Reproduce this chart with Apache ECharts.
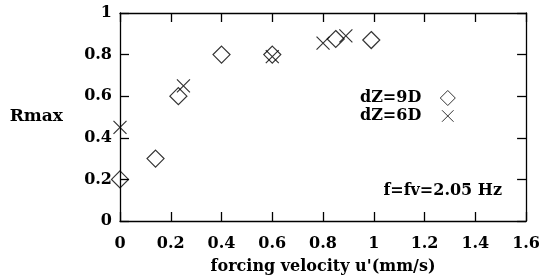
<!DOCTYPE html>
<html>
<head>
<meta charset="utf-8">
<script src="https://cdn.jsdelivr.net/npm/echarts@6/dist/echarts.min.js"></script>
<style>html,body{margin:0;padding:0;background:#fff}#c{width:543px;height:280px}</style>
</head>
<body>
<div id="c"></div>
<script>
const xTicks = [0, 0.2, 0.4, 0.6, 0.8, 1, 1.2, 1.4, 1.6];
const yTicks = [0, 0.2, 0.4, 0.6, 0.8, 1];
const dz9D = [[0, 0.20], [0.14, 0.30], [0.23, 0.60], [0.40, 0.80], [0.60, 0.80], [0.85, 0.875], [0.99, 0.87]];
const dz6D = [[0, 0.45], [0.25, 0.65], [0.60, 0.79], [0.80, 0.855], [0.89, 0.89]];
const seriesNames = ['dZ=9D', 'dZ=6D'];
const noteText = 'f=fv=2.05 Hz';

const FONT = 'DejaVu Serif';
const crossPath = 'path://M0,0L10,10M10,0L0,10';
const legendCross = 'path://M-1.5,-1.5L-1.5,-1.5M11.5,11.5L11.5,11.5M0,0L10,10M10,0L0,10';
const legendDiamond = 'path://M5,0L10,5L5,10L0,5Z';
const lineStyle = {color: '#000', width: 1.3};
const markStyle = {color: 'rgba(0,0,0,0)', borderColor: '#000', borderWidth: 1.2};
const chart = echarts.init(document.getElementById('c'), null, {renderer: 'canvas'});
const baseAxis = {
  min: 0, interval: 0.2,
  axisLine: {show: true, onZero: false, lineStyle: lineStyle},
  axisTick: {show: true, inside: true, length: 9, lineStyle: lineStyle},
  splitLine: {show: false}
};
chart.setOption({
  animation: false,
  grid: {left: 120, right: 14, top: 13, bottom: 59, containLabel: false},
  textStyle: {fontFamily: FONT},
  xAxis: [
    Object.assign({}, baseAxis, {
      type: 'value', max: xTicks[xTicks.length - 1], position: 'bottom',
      name: "forcing velocity u'(mm/s)", nameLocation: 'middle', nameGap: 38,
      nameTextStyle: {fontFamily: FONT, fontWeight: 'bold', fontSize: 16, color: '#000'},
      axisLabel: {margin: 15, fontFamily: FONT, fontWeight: 'bold', fontSize: 16, color: '#000'}
    }),
    Object.assign({}, baseAxis, {
      type: 'value', max: xTicks[xTicks.length - 1], position: 'top',
      axisLabel: {show: false}
    })
  ],
  yAxis: [
    Object.assign({}, baseAxis, {
      type: 'value', max: yTicks[yTicks.length - 1], position: 'left',
      name: 'Rmax', nameLocation: 'middle', nameGap: 57, nameRotate: 0,
      nameTextStyle: {fontFamily: FONT, fontWeight: 'bold', fontSize: 17, color: '#000'},
      axisLabel: {margin: 8, fontFamily: FONT, fontWeight: 'bold', fontSize: 16, color: '#000'}
    }),
    Object.assign({}, baseAxis, {
      type: 'value', max: yTicks[yTicks.length - 1], position: 'right',
      axisLabel: {show: false}
    })
  ],
  legend: {
    orient: 'vertical', align: 'right', left: 355, top: 85,
    itemWidth: 15, itemHeight: 15, itemGap: 2,
    data: [
      {name: seriesNames[0], icon: legendDiamond, itemStyle: {color: 'rgba(0,0,0,0)', borderColor: '#000', borderWidth: 1}},
      {name: seriesNames[1], icon: legendCross, itemStyle: {color: 'rgba(0,0,0,0)', borderColor: '#000', borderWidth: 1}}
    ],
    textStyle: {fontFamily: FONT, fontWeight: 'bold', fontSize: 16, color: '#000', padding: [0, 14, 0, 0]}
  },
  graphic: [{
    type: 'text', right: 41, top: 183,
    style: {text: noteText, font: 'bold 16px "DejaVu Serif"', fill: '#000'}
  }],
  series: [
    {
      name: seriesNames[0], type: 'scatter', data: dz9D, symbol: 'diamond', symbolSize: 17,
      itemStyle: markStyle
    },
    {
      name: seriesNames[1], type: 'scatter', data: dz6D, symbol: crossPath, symbolSize: 13,
      itemStyle: markStyle
    }
  ]
});
</script>
</body>
</html>
